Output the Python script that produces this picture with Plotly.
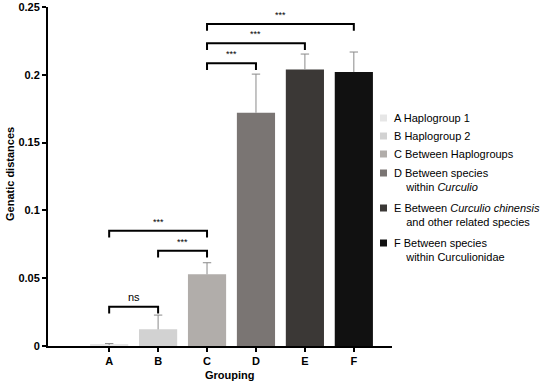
import plotly.graph_objects as go

categories = ["A", "B", "C", "D", "E", "F"]
values = [0.0008, 0.0123, 0.0529, 0.172, 0.204, 0.202]
errors = [0.001, 0.0105, 0.0085, 0.0285, 0.0113, 0.0148]
colors = ["#e6e6e6", "#d2d2d2", "#b1adaa", "#7a7573", "#3b3836", "#111111"]
legend_labels = [
    "A Haplogroup 1",
    "B Haplogroup 2",
    "C Between Haplogroups",
    "D Between species<br>    within <i>Curculio</i>",
    "E Between <i>Curculio chinensis</i><br>    and other related species",
    "F Between species<br>    within Curculionidae",
]
# significance brackets: (from, to, level, label)
bracket_from = ["A", "A", "B", "C", "C", "C"]
bracket_to = ["B", "C", "C", "D", "E", "F"]
bracket_level = [0.029, 0.085, 0.0703, 0.2085, 0.2232, 0.2375]
bracket_label = ["ns", "***", "***", "***", "***", "***"]
bracket_drop = 0.005

FONT = "Liberation Sans, Arial, sans-serif"
W, H = 550, 387
L, R, T, B = 48, 158, 7, 41
PW, PH = W - L - R, H - T - B


def px(xp):
    return (xp - L) / PW


def py(yp):
    return (H - B - yp) / PH


fig = go.Figure()
fig.add_trace(go.Bar(
    x=categories, y=values, marker=dict(color=colors, line=dict(width=0)),
    width=0.78, showlegend=False,
))
# upward-only error bars
ex, ey = [], []
for c, v, e in zip(categories, values, errors):
    ex += [c, c, None]
    ey += [v, v + e, None]
fig.add_trace(go.Scatter(x=ex, y=ey, mode="lines", line=dict(color="#8a8a8a", width=1),
                         hoverinfo="skip", showlegend=False))
fig.add_trace(go.Scatter(x=categories, y=[v + e for v, e in zip(values, errors)],
                         mode="markers", hoverinfo="skip", showlegend=False,
                         marker=dict(symbol="line-ew", size=6,
                                     line=dict(color="#8a8a8a", width=1))))

idx = {c: i for i, c in enumerate(categories)}
for a, b, lv, lab in zip(bracket_from, bracket_to, bracket_level, bracket_label):
    x0, x1 = idx[a], idx[b]
    fig.add_shape(type="path", xref="x", yref="y",
                  path=f"M {x0},{lv-bracket_drop} L {x0},{lv} L {x1},{lv} L {x1},{lv-bracket_drop}",
                  line=dict(color="black", width=2))
    fig.add_annotation(x=(x0 + x1) / 2, y=lv, xref="x", yref="y", text=lab,
                       showarrow=False, yanchor="bottom", yshift=2,
                       font=dict(family=FONT, size=11 if lab == "ns" else 9, color="black"))

# manual legend (square swatch + text), rows in pixel positions
legend_rows = [118, 136, 154, 173, 208, 243]
for lab, col, yr in zip(legend_labels, colors, legend_rows):
    fig.add_shape(type="rect", xref="paper", yref="paper",
                  x0=px(380), x1=px(387), y0=py(yr + 3.5), y1=py(yr - 3.5),
                  fillcolor=col, line=dict(width=0))
    fig.add_annotation(text=lab, xref="paper", yref="paper", x=px(392), y=py(yr - 8),
                       xanchor="left", yanchor="top", align="left", showarrow=False,
                       font=dict(family=FONT, size=11, color="black"))

fig.update_layout(
    width=W, height=H,
    margin=dict(l=L, r=R, t=T, b=B, autoexpand=False),
    paper_bgcolor="white", plot_bgcolor="white",
    font=dict(family=FONT, color="black", size=11),
    showlegend=False,
)
fig.update_xaxes(range=[-1.25, 5.78], showline=True, linecolor="black", linewidth=2,
                 ticks="outside", ticklen=4, tickwidth=2, tickcolor="black",
                 tickfont=dict(family=FONT, size=11, color="black", weight="bold"),
                 showgrid=False, zeroline=False)
fig.update_yaxes(range=[0, 0.25], showline=True, linecolor="black", linewidth=2,
                 ticks="outside", ticklen=4, tickwidth=2, tickcolor="black",
                 tickvals=[0, 0.05, 0.1, 0.15, 0.2, 0.25],
                 ticktext=["0", "0.05", "0.1", "0.15", "0.2", "0.25"],
                 tickfont=dict(family=FONT, size=11, color="black", weight="bold"),
                 showgrid=False, zeroline=False)
fig.add_annotation(text="<b>Grouping</b>", x=px(230), y=py(375), xref="paper", yref="paper",
                   showarrow=False, xanchor="center", yanchor="middle",
                   font=dict(family=FONT, size=11))
fig.add_annotation(text="<b>Genatic distances</b>", textangle=-90,
                   x=px(10), y=py(174), xref="paper", yref="paper", showarrow=False,
                   xanchor="center", yanchor="middle", font=dict(family=FONT, size=11))

fig.write_html("out.html", config={"displayModeBar": False},
               post_script="document.body.style.margin='0';document.body.style.overflow='hidden';")
